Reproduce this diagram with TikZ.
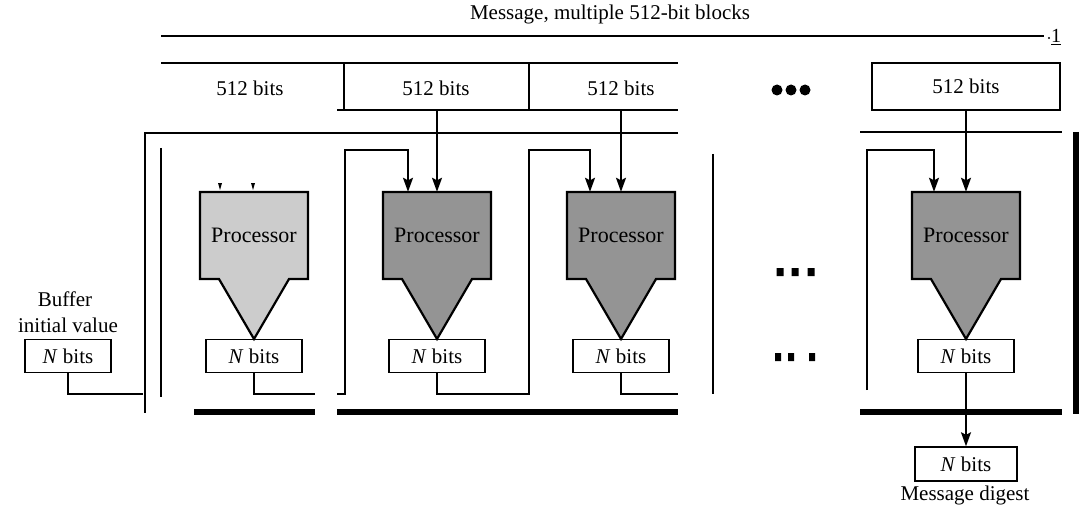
\documentclass[tikz,border=0pt]{standalone}
\usepackage{fontspec}
\setmainfont{Liberation Serif}
\usetikzlibrary{arrows.meta}
\tikzset{
  txt/.style={font=\fontsize{21}{24}\selectfont, inner sep=0pt},
  box/.style={draw, line width=1.4pt, txt, inner sep=0pt},
  thin/.style={line width=1.6pt},
  bar/.style={line width=6pt},
  arr/.style={line width=1.7pt, -{Stealth[length=14pt,width=10pt,inset=2.5pt]}},
  proctxt/.style={txt, font=\fontsize{22}{24}\selectfont},
}
\definecolor{plight}{gray}{0.80}
\definecolor{pdark}{gray}{0.58}
% processor outline: #1 centre x, #2 fill colour, #3 node name
\newcommand\ProcShape[3]{%
  \draw[line width=2.2pt, fill=#2, line join=miter]
    ({#1-54},192) -- ({#1+54},192) -- ({#1+54},279) -- ({#1+35},279)
    -- (#1,339) -- ({#1-35},279) -- ({#1-54},279) -- cycle;
  \node[proctxt, minimum width=108pt, minimum height=87pt] (#3) at (#1,235.5) {Processor};
}
\begin{document}
\begin{tikzpicture}[x=1pt,y=-1pt]
\useasboundingbox (0,0) rectangle (1079,508);

% title and message line
\node[txt] (title) at (610,14) {Message, multiple 512-bit blocks};
\coordinate (mL) at (161,36);
\coordinate (mR) at (1044,36);
\draw[thin] (mL) -- (mR);
\node[txt, font=\fontsize{20}{22}\selectfont] (one) at (1056,37) {\underline{1}};
\fill (1049,38) circle (1.2);

% message blocks row
\coordinate (rT1) at (161,63);
\coordinate (rT2) at (678,63);
\coordinate (rB1) at (337,110);
\coordinate (rB2) at (678,110);
\draw[thin] (rT1) -- (rT2);
\draw[thin] (rB1) -- (rB2);
\coordinate (s1t) at (344,63); \coordinate (s1b) at (344,110);
\coordinate (s2t) at (529,63); \coordinate (s2b) at (529,110);
\draw[thin] (s1t) -- (s1b);
\draw[thin] (s2t) -- (s2b);
\node[txt] (b1) at (250,88) {512 bits};
\node[txt] (b2) at (436,88) {512 bits};
\node[txt] (b3) at (621,88) {512 bits};
\node[box, minimum width=188pt, minimum height=47pt] (b4) at (966,86.5) {512 bits};

% ellipsis dots
\fill (777,90) circle (5.5) (791,90) circle (5.5) (805,90) circle (5.5);
\fill (776.5,268) rectangle (783.5,276) (791.5,268) rectangle (798.5,276) (807.5,268) rectangle (814.5,276);
\fill (775,353) rectangle (781,361) (788,353) rectangle (794,361) (809,353) rectangle (815,361);

% frame lines
\coordinate (fL1) at (145,133);
\coordinate (fL2) at (678,133);
\coordinate (fL3) at (145,413);
\draw[thin] (fL2) -- (fL1) -- (fL3);
\coordinate (fR1) at (860,132);
\coordinate (fR2) at (1062,132);
\draw[thin] (fR1) -- (fR2);
\coordinate (vA1) at (161,148); \coordinate (vA2) at (161,397);
\draw[line width=2pt] (vA1) -- (vA2);
\coordinate (vB1) at (713,154); \coordinate (vB2) at (713,394);
\draw[line width=2pt] (vB1) -- (vB2);
\coordinate (tR1) at (1076,132); \coordinate (tR2) at (1076,414);
\draw[bar] (tR1) -- (tR2);

% thick bars
\coordinate (bar1a) at (194,412); \coordinate (bar1b) at (315,412);
\coordinate (bar2a) at (337,412); \coordinate (bar2b) at (678,412);
\coordinate (bar3a) at (860,412); \coordinate (bar3b) at (1062,412);
\draw[bar] (bar1a) -- (bar1b);
\draw[bar] (bar2a) -- (bar2b);
\draw[bar] (bar3a) -- (bar3b);

% processors
\ProcShape{254}{plight}{p1}
\ProcShape{437}{pdark}{p2}
\ProcShape{621}{pdark}{p3}
\ProcShape{966}{pdark}{p4}

% stubs above processor 1
\fill (218,183) -- (222,183) -- (220,190) -- cycle;
\fill (251,183) -- (255,183) -- (253,190) -- cycle;

% N bits boxes
\node[box, minimum width=86pt, minimum height=33pt] (n0) at (68,356) {\textit{N} bits};
\node[box, minimum width=96pt, minimum height=33pt] (n1) at (254,356) {\textit{N} bits};
\node[box, minimum width=96pt, minimum height=33pt] (n2) at (437,356) {\textit{N} bits};
\node[box, minimum width=96pt, minimum height=33pt] (n3) at (621,356) {\textit{N} bits};
\node[box, minimum width=96pt, minimum height=33pt] (n4) at (966,356) {\textit{N} bits};
\node[box, minimum width=102pt, minimum height=34pt] (nd) at (966,464) {\textit{N} bits};

\node[txt] (buf1) at (65,299) {Buffer};
\node[txt] (buf2) at (68,325) {initial value};
\node[txt] (dig) at (965,495) {Message digest};

% connectors
\coordinate (c0) at (143,394);
\draw[thin] (n0.south) |- (c0);
\coordinate (c1) at (315,394);
\draw[thin] (n1.south) |- (c1);

\coordinate (h2) at (337,394);
\coordinate (v2b) at (345,394);
\coordinate (v2t) at (345,150);
\draw[arr] (h2) -- (v2b) -- (v2t) -| ([xshift=-29pt]p2.north);
\coordinate (m2) at (437,110);
\draw[arr] (m2) -- (m2 |- p2.north);

\coordinate (v3b) at (529,394);
\coordinate (v3t) at (529,150);
\draw[arr] (n2.south) |- (v3b) -- (v3t) -| ([xshift=-31pt]p3.north);
\coordinate (m3) at (621,110);
\draw[arr] (m3) -- (m3 |- p3.north);

\coordinate (c3) at (678,394);
\draw[thin] (n3.south) |- (c3);

\coordinate (v4b) at (867,390);
\coordinate (v4t) at (867,150);
\draw[arr] (v4b) -- (v4t) -| ([xshift=-32pt]p4.north);
\draw[arr] (b4.south) -- (p4.north);

\draw[arr] (n4.south) -- (nd.north);
\end{tikzpicture}
\end{document}
